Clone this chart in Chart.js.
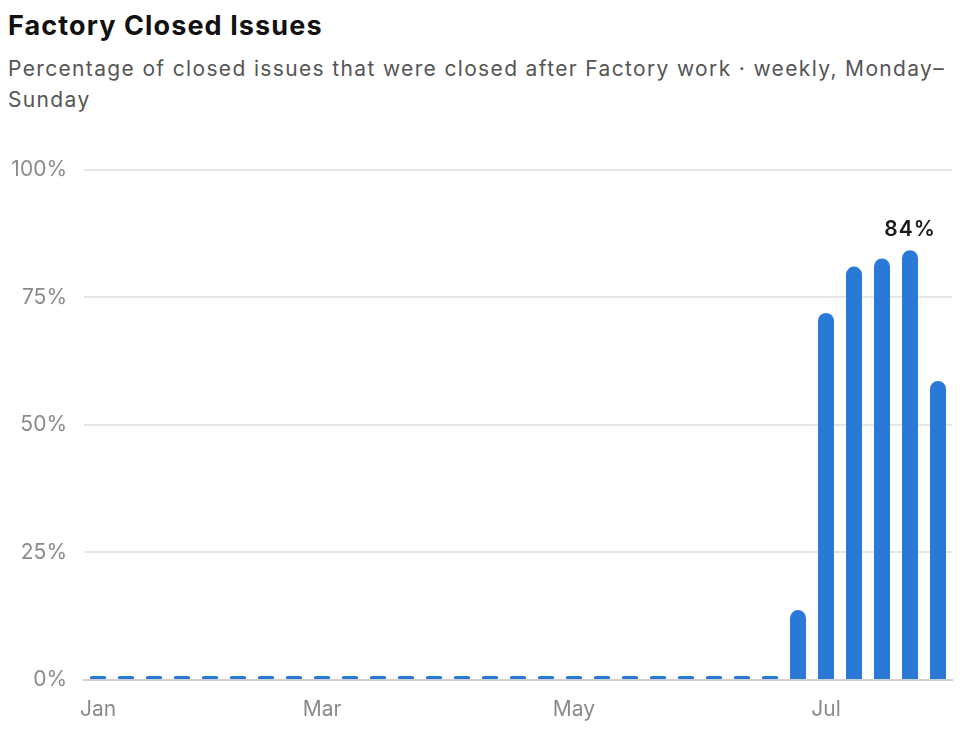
<!DOCTYPE html>
<html>
<head>
<meta charset="utf-8">
<script src="https://cdn.jsdelivr.net/npm/chart.js@4.4.1/dist/chart.umd.min.js"></script>
<style>
  html, body { margin: 0; padding: 0; background: #fff; width: 976px; height: 746px; overflow: hidden; font-family: Inter, "Noto Sans", sans-serif; }
  #title { position: absolute; left: 8px; top: 9px; font-size: 27px; font-weight: 700; color: #111; letter-spacing: 1.1px; white-space: nowrap; }
  #subtitle { position: absolute; left: 8px; top: 53px; font-size: 21px; line-height: 31px; color: #555; letter-spacing: 1.35px; white-space: nowrap; }
  #wrap { position: absolute; left: 0; top: 140px; width: 976px; height: 606px; }
</style>
</head>
<body>
<div id="title">Factory Closed Issues</div>
<div id="subtitle">Percentage of closed issues that were closed after Factory work · weekly, Monday–<br>Sunday</div>
<div id="wrap"><canvas id="c"></canvas></div>
<script>
// Week start dates (Monday)
const weeks = [
  "2025-01-06","2025-01-13","2025-01-20","2025-01-27","2025-02-03","2025-02-10","2025-02-17","2025-02-24",
  "2025-03-03","2025-03-10","2025-03-17","2025-03-24","2025-03-31","2025-04-07","2025-04-14","2025-04-21",
  "2025-04-28","2025-05-05","2025-05-12","2025-05-19","2025-05-26","2025-06-02","2025-06-09","2025-06-16",
  "2025-06-23","2025-06-30","2025-07-07","2025-07-14","2025-07-21","2025-07-28","2025-08-04"
];
// Percentage of closed issues closed after Factory work
const pctClosed = [
  0,0,0,0,0,0,0,0,
  0,0,0,0,0,0,0,0,
  0,0,0,0,0,0,0,0,
  0,13.7,71.9,81.0,82.6,84.2,58.6
];
// X tick labels (shown months)
const tickLabels = [
  "Jan","","","","","","","",
  "Mar","","","","","","","",
  "","May","","","","","","",
  "","","Jul","","","",""
];
const yTicks = [0, 25, 50, 75, 100];

const maxLabelPlugin = {
  id: 'maxLabel',
  afterDatasetsDraw(chart) {
    const ds = chart.data.datasets[0].data;
    let mi = 0;
    ds.forEach((v, i) => { if (v > ds[mi]) mi = i; });
    const bar = chart.getDatasetMeta(0).data[mi];
    const ctx = chart.ctx;
    ctx.save();
    ctx.font = '600 21px Inter, "Noto Sans", sans-serif';
    ctx.fillStyle = '#1a1a1a';
    ctx.textAlign = 'center';
    ctx.textBaseline = 'alphabetic';
    if ('letterSpacing' in ctx) ctx.letterSpacing = '1px';
    ctx.fillText(Math.round(ds[mi]) + '%', bar.x, bar.y - 14);
    ctx.restore();
  }
};

new Chart(document.getElementById('c'), {
  type: 'bar',
  data: {
    labels: weeks,
    datasets: [{
      data: pctClosed,
      backgroundColor: '#2979d6',
      borderRadius: { topLeft: 8, topRight: 8, bottomLeft: 0, bottomRight: 0 },
      borderSkipped: 'start',
      minBarLength: 4,
      categoryPercentage: 1.0,
      barPercentage: 0.57
    }]
  },
  options: {
    responsive: true,
    maintainAspectRatio: false,
    animation: false,
    layout: { padding: { left: 8, right: 24, top: 27, bottom: 6 } },
    plugins: { legend: { display: false }, tooltip: { enabled: false } },
    scales: {
      x: {
        grid: { display: false, drawTicks: false },
        border: { display: true, color: '#d0d0d0', width: 2 },
        ticks: {
          autoSkip: false,
          maxRotation: 0,
          padding: 17,
          color: '#8a8a8a',
          font: { family: 'Inter, "Noto Sans", sans-serif', size: 21 },
          callback: (v, i) => tickLabels[i]
        },
        afterFit: s => { s.height = 60; }
      },
      y: {
        min: 0,
        max: 100,
        afterBuildTicks: s => { s.ticks = yTicks.map(v => ({ value: v })); },
        grid: { color: '#e6e6e6', lineWidth: 2, drawTicks: false },
        border: { display: false },
        ticks: {
          padding: 17,
          color: '#8a8a8a',
          font: { family: 'Inter, "Noto Sans", sans-serif', size: 21 },
          callback: v => v + '%'
        },
        afterFit: s => { s.width = 76; }
      }
    }
  },
  plugins: [maxLabelPlugin]
});
</script>
</body>
</html>
